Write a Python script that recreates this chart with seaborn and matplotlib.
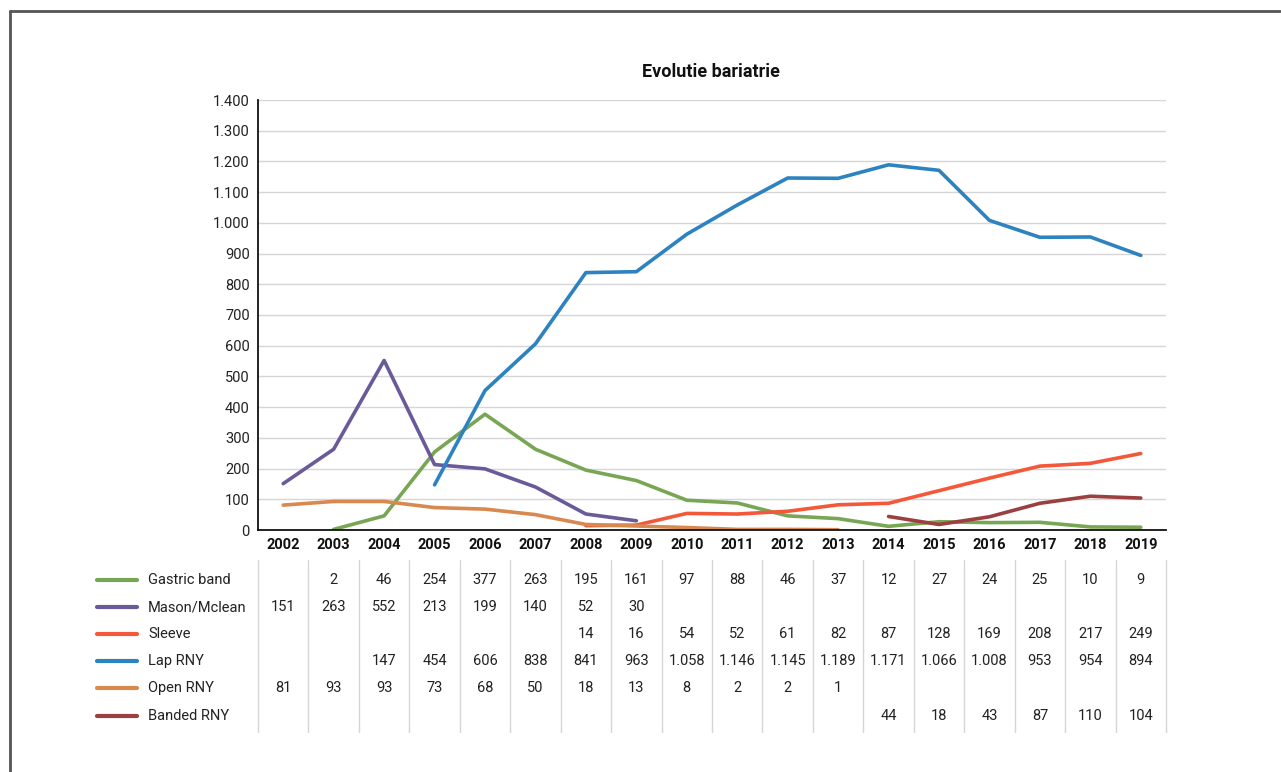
import numpy as np
import pandas as pd
import matplotlib
matplotlib.use("Agg")
import matplotlib.pyplot as plt
import matplotlib.transforms as mtransforms
from matplotlib.lines import Line2D
import seaborn as sns

years = list(range(2002, 2020))
series_names = ["Gastric band", "Mason/Mclean", "Sleeve", "Lap RNY", "Open RNY", "Banded RNY"]

# table values (None = empty)
gastric_band = [None, 2, 46, 254, 377, 263, 195, 161, 97, 88, 46, 37, 12, 27, 24, 25, 10, 9]
mason_mclean = [151, 263, 552, 213, 199, 140, 52, 30, None, None, None, None, None, None, None, None, None, None]
sleeve = [None, None, None, None, None, None, 14, 16, 54, 52, 61, 82, 87, 128, 169, 208, 217, 249]
lap_rny_table = [None, None, 147, 454, 606, 838, 841, 963, 1058, 1146, 1145, 1189, 1171, 1066, 1008, 953, 954, 894]
open_rny = [81, 93, 93, 73, 68, 50, 18, 13, 8, 2, 2, 1, None, None, None, None, None, None]
banded_rny = [None, None, None, None, None, None, None, None, None, None, None, None, 44, 18, 43, 87, 110, 104]

# Lap RNY as drawn in the chart line (starts one year later than the table)
lap_rny_line_years = list(range(2005, 2020))
lap_rny_line = [147, 454, 606, 838, 841, 963, 1058, 1146, 1145, 1189, 1171, 1008, 953, 954, 894]

colors = ["#78a655", "#6a5a99", "#f4583a", "#2c83c0", "#d8894f", "#9c3f3f"]

table_rows = [gastric_band, mason_mclean, sleeve, lap_rny_table, open_rny, banded_rny]
line_rows = {
    "Gastric band": (years, gastric_band),
    "Mason/Mclean": (years, mason_mclean),
    "Sleeve": (years, sleeve),
    "Lap RNY": (lap_rny_line_years, lap_rny_line),
    "Open RNY": (years, open_rny),
    "Banded RNY": (years, banded_rny),
}

recs = []
for name in series_names:
    ys, vs = line_rows[name]
    for y, v in zip(ys, vs):
        if v is not None:
            recs.append({"year": y, "value": v, "series": name})
df = pd.DataFrame(recs)

sns.set_style("white")
plt.rcParams["font.family"] = ["Roboto", "DejaVu Sans"]

W, H = 1281, 772
fig = plt.figure(figsize=(W / 100, H / 100), dpi=100)
ax = fig.add_axes([258 / W, 1 - 530 / H, 908 / W, 430 / H])

sns.lineplot(data=df, x="year", y="value", hue="series", hue_order=series_names,
             palette=colors, linewidth=2.6, legend=False, ax=ax, sort=True)

ax.set_xlim(2001.5, 2019.5)
ax.set_ylim(0, 1400)
ax.set_yticks(range(0, 1401, 100))
ax.set_yticklabels([f"{v:,}".replace(",", ".") for v in range(0, 1401, 100)], fontsize=10.5, color="#222222")
ax.set_xticks(years)
ax.set_xticklabels([str(y) for y in years], fontsize=10.5, fontweight="bold", color="#111111")
ax.tick_params(axis="both", length=0, pad=6)
ax.yaxis.grid(True, color="#d6d6d6", linewidth=1)
ax.set_axisbelow(True)
ax.set_xlabel("")
ax.set_ylabel("")
for s in ["top", "right"]:
    ax.spines[s].set_visible(False)
for s in ["left", "bottom"]:
    ax.spines[s].set_color("#111111")
    ax.spines[s].set_linewidth(1.3)

fig.text(711 / W, 1 - 72 / H, "Evolutie bariatrie", ha="center", va="center",
         fontsize=13, fontweight="bold", color="#111111")

# data table
trans = mtransforms.blended_transform_factory(ax.transData, fig.transFigure)
row_y = [580, 607, 634, 661, 688, 716]
for i, (name, vals, col) in enumerate(zip(series_names, table_rows, colors)):
    yf = 1 - row_y[i] / H
    fig.add_artist(Line2D([97 / W, 137 / W], [yf, yf], color=col, linewidth=3, solid_capstyle="round"))
    fig.text(148 / W, yf, name, ha="left", va="center", fontsize=10.5, color="#222222")
    for yr, v in zip(years, vals):
        if v is not None:
            ax.text(yr, yf, f"{v:,}".replace(",", "."), transform=trans, ha="center", va="center",
                    fontsize=10.5, color="#222222", clip_on=False)

for b in np.arange(2001.5, 2020.0, 1.0):
    ax.add_line(Line2D([b, b], [1 - 560 / H, 1 - 732 / H], transform=trans, color="#d6d6d6",
                       linewidth=1, clip_on=False))

# outer frame
fig.add_artist(Line2D([10 / W, 1280 / W], [1 - 11 / H, 1 - 11 / H], color="#555555", linewidth=2))
fig.add_artist(Line2D([10 / W, 10 / W], [1 - 11 / H, 0], color="#555555", linewidth=2))

fig.savefig("out.png", dpi=100, facecolor="white")
